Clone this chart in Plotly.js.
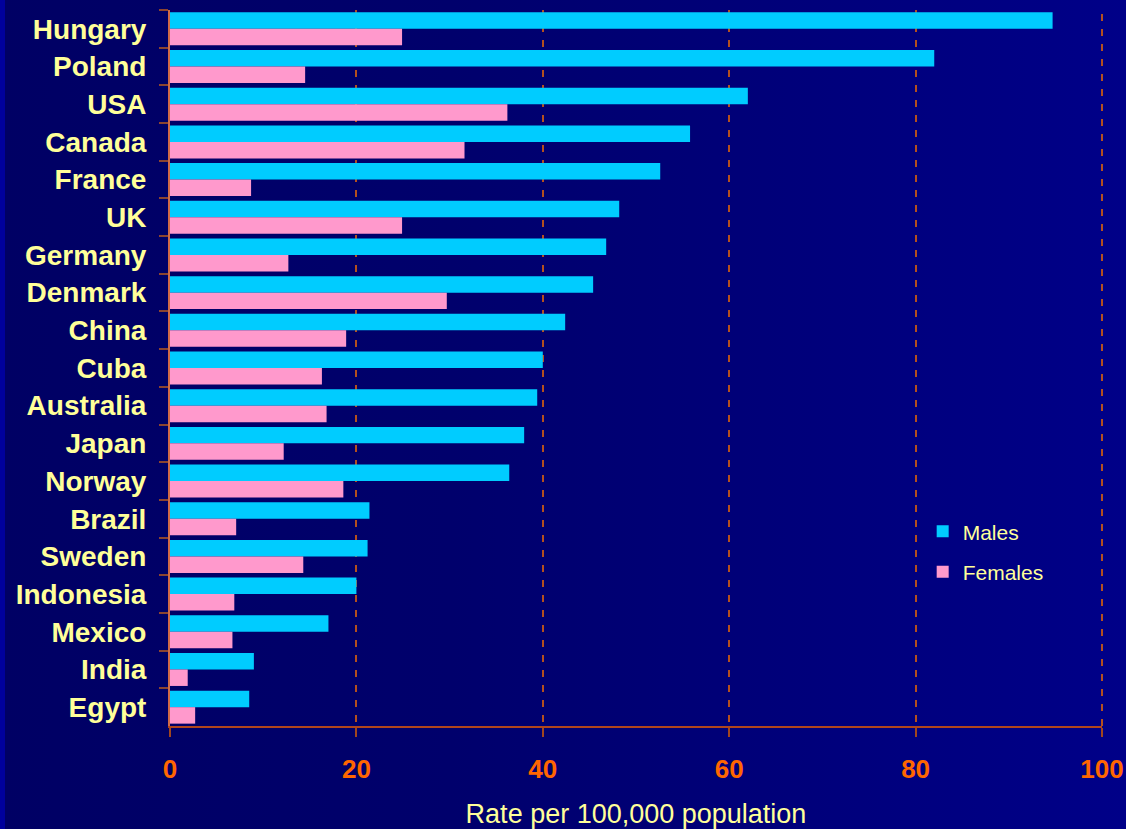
<!DOCTYPE html>
<html>
<head>
<meta charset="utf-8">
<script src="https://cdn.plot.ly/plotly-3.0.1.min.js"></script>
<style>
  html, body { margin: 0; padding: 0; }
  body { width: 1126px; height: 829px; overflow: hidden;
         background: linear-gradient(to right, #000064 0%, #00006c 40%, #000088 100%); }
  #frame { position: absolute; left: 0; top: 0; width: 5px; height: 829px; background: #00009c; }
  #chart { position: absolute; left: 0; top: 0; width: 1126px; height: 829px; }
</style>
</head>
<body>
<div id="frame"></div>
<div id="chart"></div>
<script>
const countries = ["Hungary","Poland","USA","Canada","France","UK","Germany","Denmark","China","Cuba","Australia","Japan","Norway","Brazil","Sweden","Indonesia","Mexico","India","Egypt"];
const males   = [94.7, 82.0, 62.0, 55.8, 52.6, 48.2, 46.8, 45.4, 42.4, 40.0, 39.4, 38.0, 36.4, 21.4, 21.2, 20.0, 17.0, 9.0, 8.5];
const females = [24.9, 14.5, 36.2, 31.6, 8.7, 24.9, 12.7, 29.7, 18.9, 16.3, 16.8, 12.2, 18.6, 7.1, 14.3, 6.9, 6.7, 1.9, 2.7];
const xTicks = [0, 20, 40, 60, 80, 100];
const xMax = xTicks[xTicks.length - 1];

const yellow = "#ffff99";
const orange = "#ff6600";
const gridCol = "#b4501e";

const traces = [
  { type: "bar", orientation: "h", name: "Males", y: countries, x: males,
    marker: { color: "#00ccff" }, legendgroup: "m", hoverinfo: "x+y" },
  { type: "bar", orientation: "h", name: "Females", y: countries, x: females,
    marker: { color: "#ff99cc" }, legendgroup: "f", hoverinfo: "x+y" }
];

const layout = {
  width: 1126, height: 829,
  paper_bgcolor: "rgba(0,0,0,0)",
  plot_bgcolor: "rgba(0,0,0,0)",
  margin: { l: 169.5, r: 24, t: 10, b: 103, pad: 0 },
  barmode: "group",
  bargap: 0.125,
  bargroupgap: 0,
  font: { family: "Arial, Liberation Sans, sans-serif", color: yellow },
  xaxis: {
    range: [0, xMax],
    tickvals: xTicks,
    ticktext: xTicks.map(String),
    showgrid: true, gridcolor: gridCol, gridwidth: 2, griddash: "7px,8px",
    zeroline: false,
    showline: true, linecolor: "#b0461c", linewidth: 2,
    ticks: "outside", ticklen: 9, tickcolor: "#a0461e", tickwidth: 2,
    tickfont: { size: 26, color: orange, weight: "bold" },
    ticklabelstandoff: 10,
    title: { text: "Rate per 100,000 population", font: { size: 27, color: yellow }, standoff: 23 },
    fixedrange: true
  },
  yaxis: {
    type: "category",
    autorange: "reversed",
    showgrid: false,
    zeroline: false,
    showline: true, linecolor: "#d06a48", linewidth: 2,
    ticks: "outside", ticklen: 9, tickcolor: "#8c4430", tickwidth: 2,
    tickson: "boundaries",
    tickfont: { size: 28, color: yellow, weight: "bold" },
    ticklabelstandoff: 16,
    fixedrange: true
  },
  shapes: [
    { type: "line", xref: "paper", yref: "paper", x0: 1, x1: 1, y0: 0, y1: 1,
      line: { color: gridCol, width: 2, dash: "7px,8px" }, layer: "below" }
  ],
  showlegend: true,
  legend: {
    x: 0.8076, y: 0.30, xanchor: "left", yanchor: "top",
    bgcolor: "rgba(0,0,0,0)",
    font: { size: 21, color: yellow },
    tracegroupgap: 10,
    traceorder: "grouped",
    itemwidth: 30
  }
};

Plotly.newPlot("chart", traces, layout, { displayModeBar: false, staticPlot: true });
</script>
</body>
</html>
